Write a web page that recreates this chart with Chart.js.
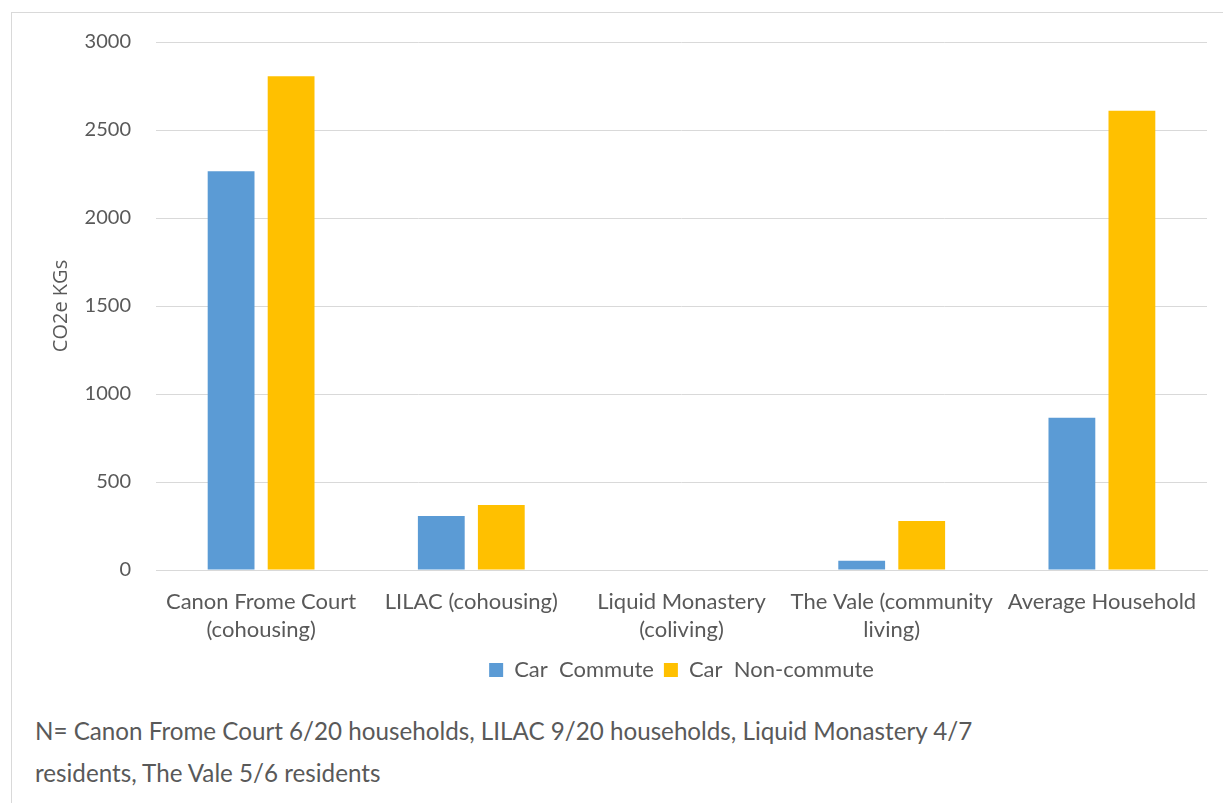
<!DOCTYPE html>
<html>
<head>
<meta charset="utf-8">
<script src="https://cdn.jsdelivr.net/npm/chart.js@4.4.1/dist/chart.umd.min.js"></script>
<style>
  html, body { margin: 0; padding: 0; background: #ffffff; width: 1223px; height: 803px; overflow: hidden; }
  #frame { position: absolute; left: 11px; top: 12px; width: 1240px; height: 820px; border: 1px solid #d9d9d9; box-sizing: border-box; }
  #wrap { position: absolute; left: 0; top: 0; width: 1223px; height: 700px; }
  #note { position: absolute; left: 35px; top: 710px; font-family: Lato, "Open Sans", sans-serif; font-size: 24.2px; color: #595959; line-height: 42px; white-space: nowrap; }
</style>
</head>
<body>
<div id="frame"></div>
<div id="wrap"><canvas id="c" width="1223" height="700"></canvas></div>
<div id="note">N= Canon Frome Court 6/20 households, LILAC 9/20 households, Liquid Monastery 4/7<br>residents, The Vale 5/6 residents</div>
<script>
const categories = [
  ["Canon Frome Court", "(cohousing)"],
  ["LILAC (cohousing)"],
  ["Liquid Monastery", "(coliving)"],
  ["The Vale (community", "living)"],
  ["Average Household"]
];
const seriesNames = ["Car  Commute", "Car  Non-commute"];
const carCommute = [2265, 307, 0, 52, 865];
const carNonCommute = [2805, 370, 0, 278, 2610];
const yTicks = [0, 500, 1000, 1500, 2000, 2500, 3000];

const tickColor = "#595959";
const gridColor = "#d9d9d9";
const fam = "Lato, 'Open Sans', sans-serif";

new Chart(document.getElementById("c"), {
  type: "bar",
  data: {
    labels: categories,
    datasets: [
      { label: seriesNames[0], data: carCommute, backgroundColor: "#5B9BD5", borderWidth: 0 },
      { label: seriesNames[1], data: carNonCommute, backgroundColor: "#FFC000", borderWidth: 0 }
    ]
  },
  options: {
    responsive: false,
    animation: false,
    devicePixelRatio: 1,
    categoryPercentage: 0.571,
    barPercentage: 0.78,
    layout: { padding: { left: 47, right: 16, top: 42, bottom: 9 } },
    plugins: {
      tooltip: { enabled: false },
      legend: {
        position: "bottom",
        fullSize: false,
        labels: {
          boxWidth: 14, boxHeight: 14, padding: 10,
          color: tickColor,
          font: { family: fam, size: 22 }
        }
      }
    },
    scales: {
      x: {
        grid: { display: false, drawTicks: false },
        border: { display: true, color: gridColor, width: 1 },
        afterFit: (axis) => { axis.height = 79; },
        ticks: {
          color: tickColor, padding: 18, maxRotation: 0, autoSkip: false,
          font: { family: fam, size: 22, lineHeight: 1.27 }
        }
      },
      y: {
        min: 0, max: 3000,
        afterBuildTicks: (axis) => { axis.ticks = yTicks.map(v => ({ value: v })); },
        afterFit: (axis) => { axis.width = 109; },
        grid: { color: gridColor, lineWidth: 1, drawTicks: false },
        border: { display: false },
        title: {
          display: true, text: "CO2e KGs", color: tickColor,
          font: { family: "'Open Sans', sans-serif", size: 20, lineHeight: 1.2 }, padding: { top: 2, bottom: 10 }
        },
        ticks: {
          color: tickColor, padding: 25,
          callback: (v) => String(v),
          font: { family: fam, size: 20 }
        }
      }
    }
  }
});
</script>
</body>
</html>
